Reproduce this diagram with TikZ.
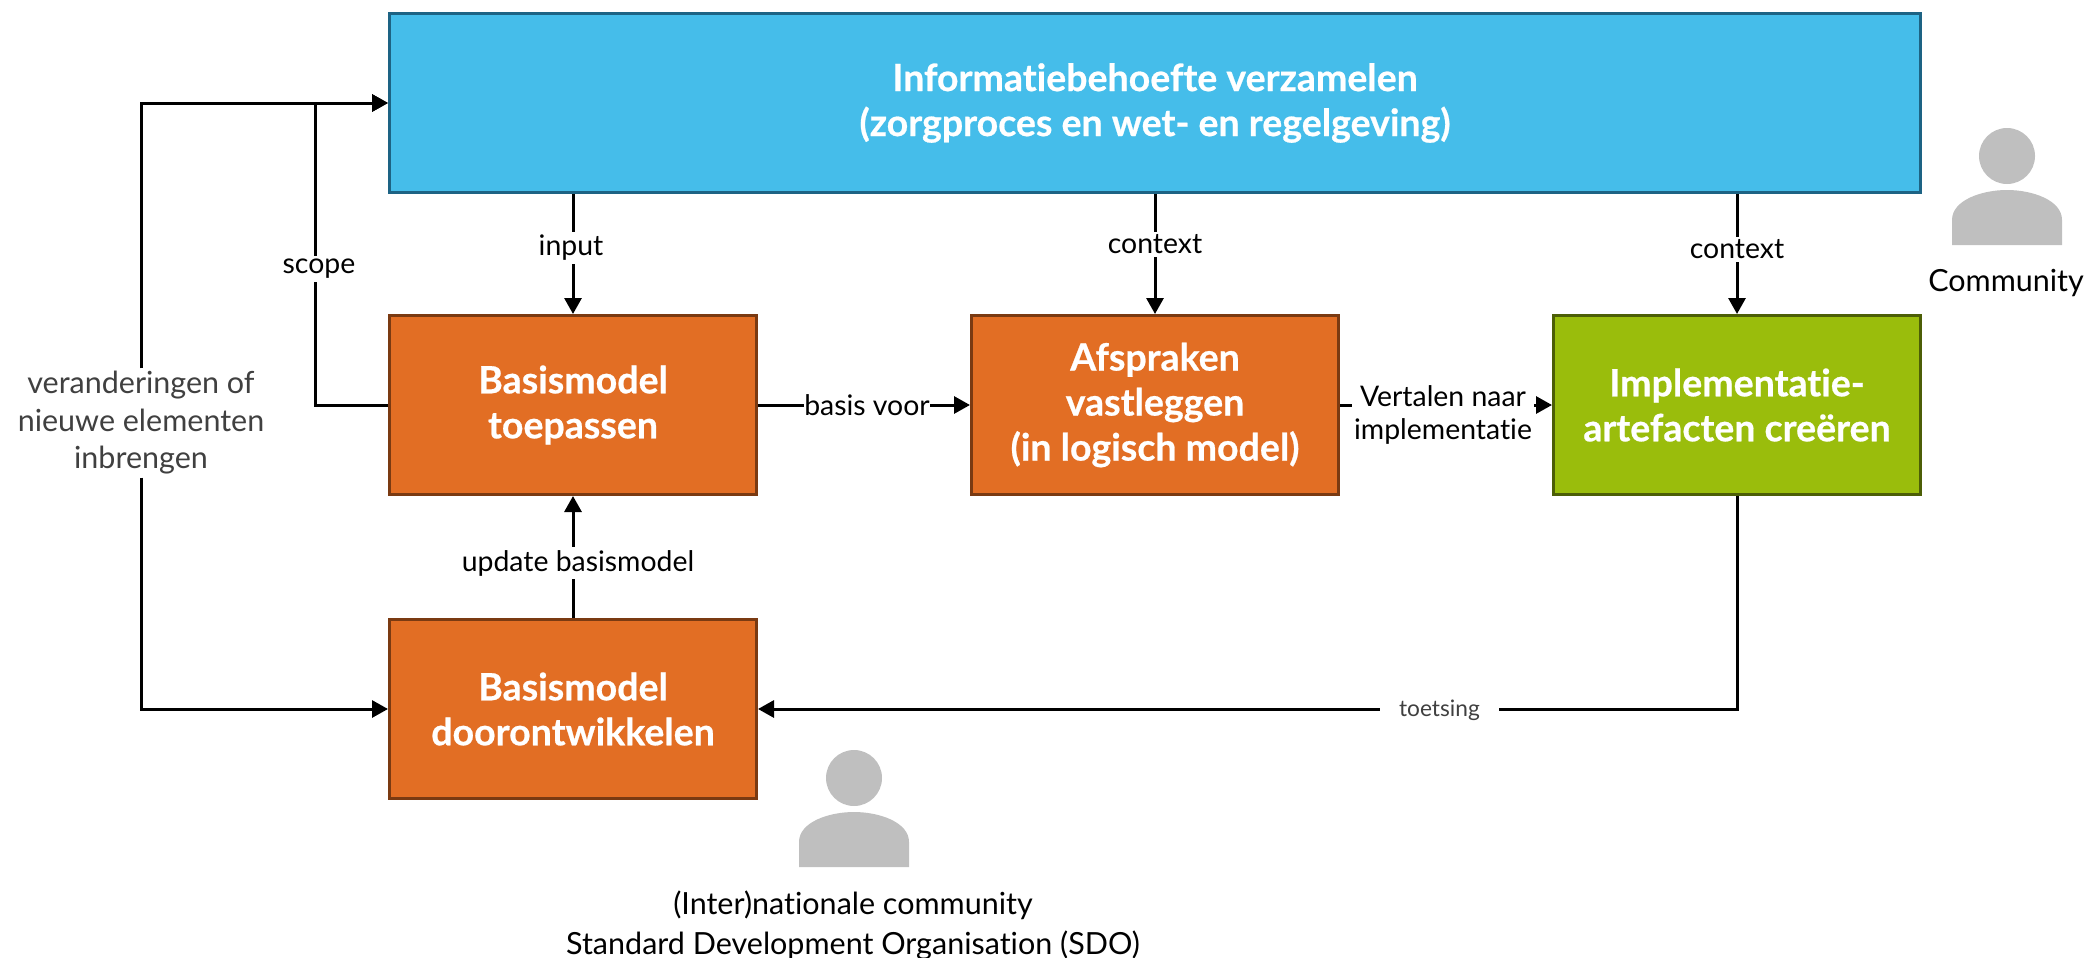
\documentclass[tikz,border=0pt]{standalone}
\usepackage{fontspec}
\setmainfont[BoldFeatures={FakeBold=0.6},Ligatures=NoCommon]{Lato}
\usetikzlibrary{arrows.meta}
\definecolor{infoblue}{HTML}{45BDEA}
\definecolor{infoedge}{HTML}{1D6384}
\definecolor{modelorange}{HTML}{E26E24}
\definecolor{modeledge}{HTML}{7A3A12}
\definecolor{implgreen}{HTML}{9ABD0C}
\definecolor{impledge}{HTML}{4C5E06}
\definecolor{persongrey}{HTML}{BFBFBF}
\definecolor{notegrey}{HTML}{404040}
\begin{document}
\begin{tikzpicture}[x=1pt,y=-1pt]
\tikzset{
stepbox/.style={rectangle,draw,line width=3pt,text=white,align=center,inner sep=0pt,
  font={\fontsize{37.5pt}{45}\selectfont\bfseries}},
modelbox/.style={stepbox,fill=modelorange,draw=modeledge,minimum width=367pt,minimum height=179pt},
conn/.style={-{Triangle[length=16pt,width=17pt]},line width=3pt},
tag/.style={fill=white,align=center,inner sep=3pt,font={\fontsize{28.4pt}{33.5}\selectfont}},
bigtag/.style={tag,font={\fontsize{30.5pt}{37.5}\selectfont}},
person/.pic={
  \fill[persongrey] (0,-34) ellipse (28pt and 28pt);
  \fill[persongrey] (-55,55) -- (-55,30) .. controls (-55,10) and (-25,0) .. (0,0)
    .. controls (25,0) and (55,10) .. (55,30) -- (55,55) -- cycle;
}
}
\useasboundingbox (0,0) rectangle (2090,958);

\node[stepbox,fill=infoblue,draw=infoedge,minimum width=1531pt,minimum height=179pt] (Info) at (1155,103) {Informatiebehoefte verzamelen\\(zorgproces en wet- en regelgeving)};
\node[modelbox] (Toepassen) at (573,405) {Basismodel\\toepassen};
\node[modelbox] (Afspraken) at (1155,405) {Afspraken\\vastleggen\\(in logisch model)};
\node[modelbox,fill=implgreen,draw=impledge] (Impl) at (1737,405) {Implementatie-\\artefacten creëren};
\node[modelbox] (Door) at (573,709) {Basismodel\\doorontwikkelen};

\node[bigtag,text=notegrey] (Change) at (141,423) {veranderingen of\\nieuwe elementen\\inbrengen};
\coordinate (Scopejoin) at (315,103);

\path (2007,190) pic {person};
\path (854,812) pic {person};
\node[bigtag] (Community) at (2006,283) {Community};
\node[bigtag,inner sep=0pt,font={\fontsize{30.5pt}{40}\selectfont}] (Sdo) at (853,925) {(Inter)nationale community\\Standard Development Organisation (SDO)};

\draw[conn] (Change) |- (Info);
\draw[conn] (Change) |- (Door);
\draw[conn] (Toepassen) -| node[tag,pos=.725,xshift=4pt] {scope} (Scopejoin) -- (Info);
\draw[conn] (Info.south -| Toepassen) -- node[tag,pos=.45,xshift=-2pt] {input} (Toepassen);
\draw[conn] (Info.south -| Afspraken) -- node[tag,pos=.42] {context} (Afspraken);
\draw[conn] (Info.south -| Impl) -- node[tag,pos=.46] {context} (Impl);
\draw[conn] (Toepassen) -- node[tag,inner sep=0pt,pos=.5,xshift=3pt] {basis voor} (Afspraken);
\draw[conn] (Afspraken) -- node[tag,inner sep=2pt,xshift=-3pt,yshift=-10pt] {Vertalen naar\\implementatie} (Impl);
\draw[conn] (Door) -- node[tag,pos=.45,xshift=5pt] {update basismodel} (Toepassen);
\draw[conn] (Impl) |- node[tag,pos=.652,yshift=-1pt,text=notegrey,inner xsep=19pt,font={\fontsize{22.7pt}{28}\selectfont}] {toetsing} (Door);
\end{tikzpicture}
\end{document}
